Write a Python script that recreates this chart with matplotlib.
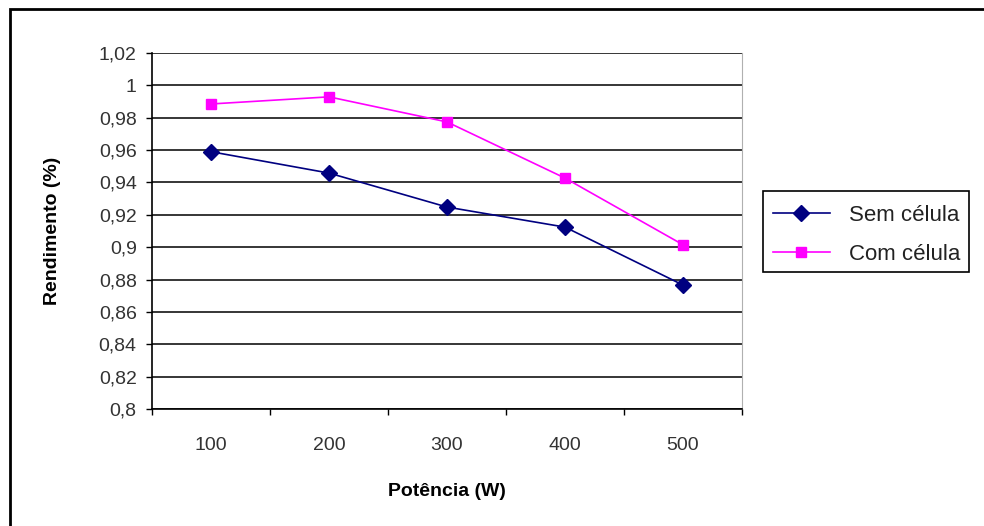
import numpy as np
import matplotlib.pyplot as plt
from matplotlib.patches import Rectangle
from matplotlib.ticker import FuncFormatter, FixedLocator

plt.rcParams['font.family'] = ['Liberation Sans', 'DejaVu Sans']

potencia = ['100', '200', '300', '400', '500']
sem_celula = [0.959, 0.9458, 0.9248, 0.9124, 0.8766]
com_celula = [0.9885, 0.9929, 0.9774, 0.9427, 0.9015]

fig = plt.figure(figsize=(9.84, 5.26), dpi=100)
ax = fig.add_axes([152 / 984, 1 - 409 / 526, 590 / 984, 356 / 526])

x = np.arange(len(potencia))
ax.plot(x, sem_celula, color='#000080', marker='D', markersize=8, lw=1.2, label='Sem célula')
ax.plot(x, com_celula, color='#ff00ff', marker='s', markersize=7.5, lw=1.2, label='Com célula')

ax.set_xlim(-0.5, len(potencia) - 0.5)
ax.set_ylim(0.8, 1.02)
ax.set_yticks(np.arange(0.8, 1.0201, 0.02))
ax.yaxis.set_major_formatter(FuncFormatter(lambda v, p: f"{v:.2f}".rstrip('0').rstrip('.').replace('.', ',')))
ax.yaxis.grid(True, color='black', lw=1.1)
ax.set_axisbelow(True)

# category axis: ticks between categories, labels centered
ax.xaxis.set_major_locator(FixedLocator(np.arange(-0.5, len(potencia), 1.0)))
ax.xaxis.set_major_formatter(FuncFormatter(lambda v, p: ''))
ax.xaxis.set_minor_locator(FixedLocator(x))
ax.set_xticklabels(potencia, minor=True)
ax.tick_params(axis='x', which='minor', length=0, pad=20, labelsize=14, labelcolor='#333333')
ax.tick_params(axis='x', which='major', length=4.5, width=1, direction='out')
ax.tick_params(axis='y', length=4.5, width=1, direction='out', pad=6.5, labelsize=14, labelcolor='#333333')

for s in ['left', 'bottom']:
    ax.spines[s].set_color('black')
    ax.spines[s].set_linewidth(1.2)
ax.spines['top'].set_visible(False)
ax.spines['right'].set_color('#b0b0b0')

ax.set_xlabel('Potência (W)', fontsize=14, fontweight='bold', labelpad=21)
ax.set_ylabel('Rendimento (%)', fontsize=14, fontweight='bold', labelpad=27)

leg = fig.legend(loc='center left', bbox_to_anchor=(773 / 984, 1 - 235 / 526), fontsize=16,
                 frameon=False, handlelength=2.55, handletextpad=0.85, labelspacing=0.8,
                 borderpad=0, borderaxespad=0)
for t in leg.get_texts():
    t.set_color('#222222')

# legend frame (the labels run up to its right edge, as in the source)
fig.patches.append(Rectangle((763 / 984, 1 - 272 / 526), 206 / 984, 81 / 526, transform=fig.transFigure,
                             fill=False, edgecolor='black', lw=1.2))
# outer border of the chart
fig.patches.append(Rectangle((10 / 984, -0.05), 1.2, 1 - 9 / 526 + 0.05, transform=fig.transFigure,
                             fill=False, edgecolor='black', lw=2))

fig.savefig('out.png', dpi=100)
